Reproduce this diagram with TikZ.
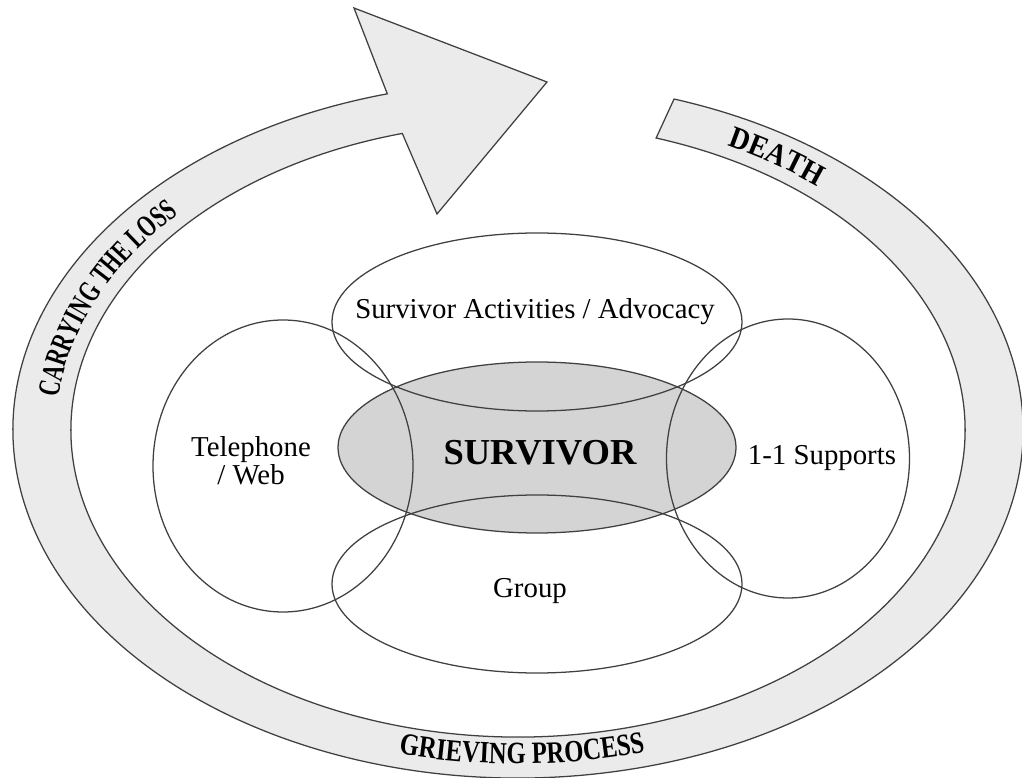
\documentclass[tikz,border=0pt]{standalone}
\usepackage{fontspec}
\setmainfont{Liberation Serif}
\newfontfamily\bandfont[FakeStretch=0.8]{Liberation Serif}
\newfontfamily\lossfont[FakeStretch=0.68]{Liberation Serif}
\newfontfamily\deathfont[FakeStretch=0.9]{Liberation Serif}
\usetikzlibrary{calc,decorations.text}

\begin{document}
\begin{tikzpicture}[x=0.025cm, y=0.025cm,
    ellline/.style={draw=black!75, line width=0.9pt},
    lbl/.style={font=\fontsize{20.5}{20}\selectfont, inner sep=0pt},
    bandtext/.style 2 args={decorate, decoration={text along path, text align=center,
      text={|#1\bfseries\fontsize{22}{24}\selectfont|#2}}}]
			%%%%% START %%%%%
			
			\useasboundingbox (0,0) rectangle (1022,778);
			\coordinate (ringc) at (518,348);
			
			% ring with arrow head
			\draw[ellline, fill=black!8] ($(ringc)+(105:505 and 348)$) arc[start angle=105, end angle=432, x radius=505, y radius=348]
			  -- ($(ringc)+(72:447 and 307)$) arc[start angle=72, end angle=-255, x radius=447, y radius=307]
			  -- (437,564) -- (547,696) -- (354,770) -- cycle;
			
			\coordinate (survc) at (537,330.5);
			\coordinate (actc) at (537,456);
			\coordinate (groupc) at (537,194);
			\coordinate (phonec) at (283,312);
			\coordinate (suppc) at (788,319.5);
			
			\fill[black!17] (survc) ellipse [x radius=199, y radius=85.5];
			\draw[ellline] (actc) ellipse [x radius=205, y radius=89];
			\draw[ellline] (groupc) ellipse [x radius=205, y radius=89];
			\draw[ellline] (phonec) ellipse [x radius=130, y radius=146];
			\draw[ellline] (suppc) ellipse [x radius=121.5, y radius=139.5];
			\draw[ellline] (survc) ellipse [x radius=199, y radius=85.5];
			
			\node[lbl, anchor=base] (activities) at (535,459) {Survivor Activities / Advocacy};
			\node[lbl, align=center] (phone) at (251,317) {Telephone\\/ Web};
			\node[anchor=base, inner sep=0pt, font=\bfseries\fontsize{26}{28}\selectfont] (survivor) at (540,313) {SURVIVOR};
			\node[lbl, anchor=base] (supports) at (822,313) {1-1 Supports};
			\node[lbl, anchor=base] (group) at (530,180) {Group};
			
			% band labels
			\path[bandtext={\bandfont}{GRIEVING PROCESS}] ($(ringc)+(247:484 and 334)$) arc[start angle=247, end angle=294, x radius=484, y radius=334];
			\path[bandtext={\lossfont}{CARRYING THE LOSS}] ($(ringc)+(204:462 and 318)$) arc[start angle=204, end angle=114, x radius=462, y radius=318];
			\path[bandtext={\deathfont}{DEATH}] ($(ringc)+(73:466 and 318)$) arc[start angle=73, end angle=39, x radius=466, y radius=318];
			
			%%%%% END %%%%%
\end{tikzpicture}
\end{document}
